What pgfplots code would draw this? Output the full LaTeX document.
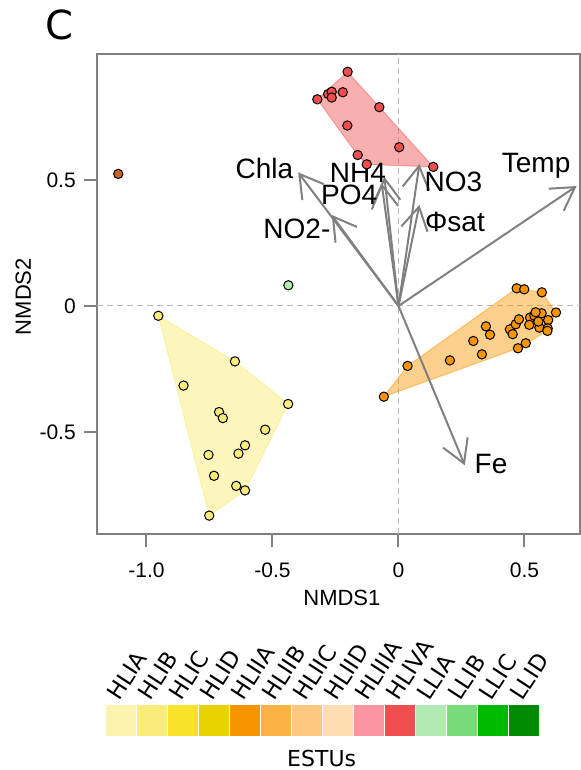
\documentclass[border=0pt]{standalone}
\usepackage{fontspec}
\setmainfont{Liberation Sans}
\newfontfamily\dejavu{DejaVu Sans}
\usepackage{pgfplots}
\pgfplotsset{compat=1.18}
\usetikzlibrary{arrows.meta}
\definecolor{axgray}{HTML}{808080}
\definecolor{zgray}{HTML}{BBBBBB}
\definecolor{HLIA}{HTML}{FCF4AE}
\definecolor{HLIB}{HTML}{FAEC7A}
\definecolor{HLIC}{HTML}{F8E22A}
\definecolor{HLID}{HTML}{E8D300}
\definecolor{HLIIA}{HTML}{F79400}
\definecolor{HLIIB}{HTML}{FDB244}
\definecolor{HLIIC}{HTML}{FEC97E}
\definecolor{HLIID}{HTML}{FFDFB1}
\definecolor{HLIIIA}{HTML}{FA94A0}
\definecolor{HLIVA}{HTML}{F04E4E}
\definecolor{LLIA}{HTML}{B3E9B2}
\definecolor{LLIB}{HTML}{78DA78}
\definecolor{LLIC}{HTML}{00BA00}
\definecolor{LLID}{HTML}{008B00}
\definecolor{brownpt}{HTML}{C8661E}
\begin{document}
\begin{tikzpicture}
\useasboundingbox (-72.75pt,-176.8pt) rectangle (363pt,400.7pt);
\begin{axis}[
  at={(0pt,0pt)}, anchor=south west,
  x=189pt, y=189pt,
  xmin=-1.1964, xmax=0.7202, ymin=-0.906, ymax=1.0,
  clip=false,
  axis line style={draw=axgray, line width=1.5pt},
  xtick={-1,-0.5,0,0.5}, xticklabels={-1.0,-0.5,0,0.5},
  ytick={-0.5,0,0.5}, yticklabels={-0.5,0,0.5},
  xtick pos=bottom, ytick pos=left,
  tick align=outside, major tick length=9.75pt,
  tick style={draw=axgray, line width=1.5pt},
  tick label style={font=\fontsize{15.75}{18}\selectfont, inner sep=0pt},
  xticklabel style={anchor=base, yshift=-22.5pt},
  yticklabel style={anchor=east, xshift=-6pt},
  xlabel={NMDS1}, ylabel={NMDS2},
  label style={font=\fontsize{16.5}{19}\selectfont, inner sep=0pt},
  xlabel style={anchor=base, at={(axis description cs:0.507,-0.1493)}},
  ylabel style={anchor=center, at={(axis description cs:-0.1526,0.4947)}},
]
% zero lines
\addplot[zgray, line width=0.75pt, dash pattern=on 4.5pt off 3pt] coordinates {(0,-0.906) (0,1.0)};
\addplot[zgray, line width=0.75pt, dash pattern=on 4.5pt off 3pt] coordinates {(-1.1964,0) (0.7202,0)};
% hulls
\addplot[draw=HLIB, draw opacity=0.6, line width=0.75pt, fill=HLIB, fill opacity=0.5] coordinates {
(-0.953,-0.039) (-0.649,-0.220) (-0.438,-0.389) (-0.609,-0.732) (-0.751,-0.832)} -- cycle;
\addplot[draw=HLIIA, draw opacity=0.45, line width=0.75pt, fill=HLIIA, fill opacity=0.45] coordinates {
(-0.058,-0.360) (0.036,-0.238) (0.469,0.070) (0.569,0.054) (0.625,-0.026) (0.591,-0.099) (0.474,-0.168)} -- cycle;
\addplot[draw=HLIVA, draw opacity=0.45, line width=0.75pt, fill=HLIVA, fill opacity=0.45] coordinates {
(-0.202,0.929) (-0.322,0.820) (-0.162,0.599) (-0.126,0.562) (0.138,0.552)} -- cycle;
% points
\addplot[only marks, mark=*, mark size=3.5pt, mark options={draw=black, line width=0.75pt, fill=HLIB}] coordinates {
(-0.953,-0.039) (-0.649,-0.220) (-0.853,-0.316) (-0.438,-0.389) (-0.712,-0.421) (-0.697,-0.445)
(-0.529,-0.491) (-0.609,-0.553) (-0.754,-0.591) (-0.635,-0.586) (-0.732,-0.674) (-0.644,-0.714)
(-0.609,-0.732) (-0.751,-0.832)};
\addplot[only marks, mark=*, mark size=3.5pt, mark options={draw=black, line width=0.75pt, fill=HLIIA}] coordinates {
(0.469,0.070) (0.499,0.066) (0.569,0.054) (0.625,-0.026) (0.036,-0.238) (-0.058,-0.360)
(0.204,-0.216) (0.297,-0.139) (0.331,-0.192) (0.347,-0.081) (0.363,-0.114) (0.442,-0.093)
(0.453,-0.112) (0.465,-0.073) (0.478,-0.053) (0.474,-0.168) (0.505,-0.148) (0.522,-0.046)
(0.519,-0.075) (0.539,-0.038) (0.568,-0.029) (0.559,-0.086) (0.594,-0.056) (0.592,-0.089)
(0.591,-0.099) (0.555,-0.062) (0.544,-0.025)};
\addplot[only marks, mark=*, mark size=3.5pt, mark options={draw=black, line width=0.75pt, fill=HLIVA}] coordinates {
(-0.202,0.929) (-0.322,0.820) (-0.279,0.841) (-0.265,0.850) (-0.265,0.827) (-0.221,0.848)
(-0.076,0.789) (-0.203,0.716) (0.003,0.630) (-0.162,0.599) (-0.126,0.562) (0.138,0.552)};
\addplot[only marks, mark=*, mark size=3.5pt, mark options={draw=black, line width=0.75pt, fill=brownpt}] coordinates {(-1.112,0.524)};
\addplot[only marks, mark=*, mark size=3.5pt, mark options={draw=black, line width=0.75pt, fill=LLIA}] coordinates {(-0.437,0.082)};
% environmental vectors
\pgfplotsset{envarrow/.style={axgray, line width=1.5pt, -{Straight Barb[length=17pt,width=20pt]}}}
\addplot[envarrow] coordinates {(0,0) (0.707,0.476)};
\addplot[envarrow] coordinates {(0,0) (-0.398,0.530)};
\addplot[envarrow] coordinates {(0,0) (-0.265,0.361)};
\addplot[envarrow] coordinates {(0,0) (-0.056,0.513)};
\addplot[envarrow] coordinates {(0,0) (-0.067,0.487)};
\addplot[envarrow] coordinates {(0,0) (0.083,0.563)};
\addplot[envarrow] coordinates {(0,0) (0.083,0.401)};
\addplot[envarrow] coordinates {(0,0) (0.263,-0.632)};
\begin{scope}[every node/.style={anchor=base, inner sep=0pt, font=\fontsize{21}{25}\selectfont}]
\node at (axis cs:-0.532,0.506) {Chla};
\node at (axis cs:-0.161,0.489) {NH4};
\node at (axis cs:-0.196,0.401) {PO4};
\node at (axis cs:-0.403,0.266) {NO2-};
\node at (axis cs:0.218,0.454) {NO3};
\node at (axis cs:0.224,0.295) {Φsat};
\node at (axis cs:0.546,0.529) {Temp};
\node at (axis cs:0.367,-0.664) {Fe};
\end{scope}
\end{axis}
\node[anchor=base, inner sep=0pt, font=\dejavu\fontsize{30}{36}\selectfont] at (-28.5pt,371.25pt) {C};
% colour key
\foreach \nm [count=\i from 0] in {HLIA,HLIB,HLIC,HLID,HLIIA,HLIIB,HLIIC,HLIID,HLIIIA,HLIVA,LLIA,LLIB,LLIC,LLID} {
  \fill[\nm] ({6.75pt+23.25pt*\i},-151.3pt) rectangle ({29.25pt+23.25pt*\i},-128pt);
  \node[anchor=base west, rotate=57, inner sep=0pt, font=\dejavu\fontsize{17}{20}\selectfont] at ({17pt+23.25pt*\i},-125.8pt) {\nm};
}
\node[anchor=base, inner sep=0pt, font=\dejavu\fontsize{16.5}{19}\selectfont] at (168.5pt,-174.3pt) {ESTUs};
\end{tikzpicture}
\end{document}
